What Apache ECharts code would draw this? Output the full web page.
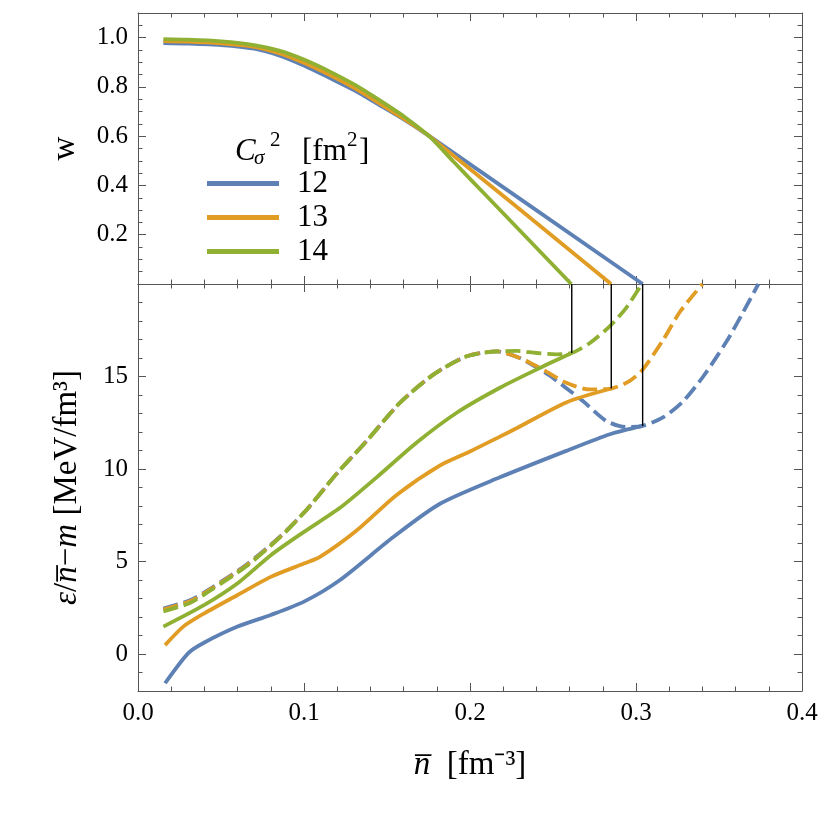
<!DOCTYPE html>
<html><head><meta charset="utf-8">
<script src="https://cdn.jsdelivr.net/npm/echarts@6/dist/echarts.min.js"></script>
<style>html,body{margin:0;padding:0;background:#fff}#c{width:830px;height:830px}</style>
</head><body><div id="c"></div><script>
// ---- data ----
const legendNames = ['12', '13', '14'];
const xTicks = [0.0, 0.1, 0.2, 0.3, 0.4];
const wTickLabels = [0.2, 0.4, 0.6, 0.8, 1.0];
const eTickLabels = [0, 5, 10, 15];

// top panel: w(n)
const nW12 = [0.0153, 0.03, 0.05, 0.07, 0.085, 0.1006, 0.115, 0.1307, 0.145, 0.1608, 0.176, 0.304];
const w12  = [0.978, 0.976, 0.970, 0.955, 0.928, 0.885, 0.838, 0.785, 0.728, 0.665, 0.598, 0.0];
const nW13 = [0.0153, 0.03, 0.05, 0.07, 0.085, 0.1006, 0.115, 0.1307, 0.145, 0.1608, 0.176, 0.285];
const w13  = [0.986, 0.984, 0.977, 0.963, 0.937, 0.896, 0.850, 0.794, 0.735, 0.668, 0.598, 0.0];
const nW14 = [0.0153, 0.03, 0.05, 0.07, 0.085, 0.1006, 0.115, 0.1307, 0.145, 0.1608, 0.176, 0.19, 0.21, 0.23, 0.25, 0.261];
const w14  = [0.994, 0.992, 0.985, 0.970, 0.947, 0.909, 0.864, 0.808, 0.748, 0.677, 0.596, 0.497, 0.357, 0.217, 0.077, 0.0];

// bottom panel: stable branches (solid)
const nE12 = [0.0163, 0.0303, 0.04, 0.06, 0.08, 0.1, 0.1217, 0.1538, 0.1819, 0.218, 0.258, 0.2843, 0.304];
const e12  = [-1.58, 0.05, 0.62, 1.48, 2.11, 2.83, 4.0, 6.32, 8.12, 9.55, 10.98, 11.88, 12.33];
const nE13 = [0.0163, 0.0273, 0.04, 0.06, 0.08, 0.1, 0.1096, 0.1317, 0.1558, 0.182, 0.2, 0.218, 0.228, 0.258, 0.2851];
const e13  = [0.48, 1.48, 2.2, 3.19, 4.17, 4.89, 5.25, 6.68, 8.6, 10.2, 10.95, 11.75, 12.2, 13.6, 14.35];
const nE14 = [0.0153, 0.04, 0.06, 0.08, 0.1, 0.1217, 0.1438, 0.1679, 0.192, 0.218, 0.242, 0.2613];
const e14  = [1.48, 2.65, 3.82, 5.34, 6.6, 7.9, 9.55, 11.43, 13.04, 14.39, 15.46, 16.27];

// bottom panel: other branches (dashed)
const nD12 = [0.0153, 0.0313, 0.0434, 0.0655, 0.0855, 0.1016, 0.1197, 0.1378, 0.1578, 0.1779, 0.198, 0.216, 0.23, 0.24, 0.248, 0.268, 0.282, 0.294, 0.304, 0.3165, 0.3285, 0.3405, 0.3546, 0.3647, 0.3737];
const d12  = [2.46, 2.9, 3.52, 4.84, 6.34, 7.8, 9.75, 11.52, 13.58, 15.1, 16.09, 16.36, 16.0, 15.5, 15.05, 13.67, 12.6, 12.27, 12.33, 12.8, 13.67, 15.0, 16.9, 18.5, 20.0];
const nD13 = [0.0153, 0.0313, 0.0434, 0.0655, 0.0855, 0.1016, 0.1197, 0.1378, 0.1578, 0.1779, 0.198, 0.216, 0.23, 0.244, 0.258, 0.272, 0.2851, 0.296, 0.304, 0.3165, 0.3265, 0.340];
const d13  = [2.4, 2.85, 3.48, 4.8, 6.32, 7.8, 9.75, 11.52, 13.58, 15.1, 16.09, 16.36, 16.0, 15.37, 14.66, 14.3, 14.35, 14.75, 15.37, 17.0, 18.5, 20.0];
const nD14 = [0.0153, 0.0313, 0.0434, 0.0655, 0.0855, 0.1016, 0.1197, 0.1378, 0.1578, 0.1779, 0.198, 0.216, 0.228, 0.24, 0.252, 0.2613, 0.272, 0.284, 0.294, 0.3035];
const d14  = [2.3, 2.76, 3.42, 4.76, 6.3, 7.8, 9.75, 11.52, 13.58, 15.1, 16.09, 16.36, 16.38, 16.27, 16.2, 16.27, 16.8, 17.7, 18.7, 20.0];

// vertical connectors (transition density)
const nTrans = [0.304, 0.2851, 0.2613];
const eTrans = [12.33, 14.35, 16.27];
const eTop = 20;

// ---- styling ----
const colors = ['#5E81B5', '#E19C24', '#8FB032'];
const FONT = '"Liberation Serif", "Times New Roman", serif';
const frame = '#555';
const zip = (a, b) => a.map((v, i) => [v, b[i]]);

const tickCommon = {
  axisLine: { show: true, onZero: false, lineStyle: { color: frame, width: 1 } },
  axisTick: { show: true, inside: true, length: 8, lineStyle: { color: frame, width: 1 } },
  splitLine: { show: false },
  minorSplitLine: { show: false }
};
const minor = n => ({ minorTick: { show: true, splitNumber: n, length: 4.5, lineStyle: { color: frame, width: 1 } } });
const lab = (show, fmt) => ({ show: show, fontFamily: FONT, fontSize: 25, color: '#000', margin: 10, formatter: fmt, showMinLabel: true, showMaxLabel: true });
const near = (arr, v) => arr.some(t => Math.abs(t - v) < 1e-6);
const xFmt = v => near(xTicks, v) ? v.toFixed(1) : '';
const wFmt = v => near(wTickLabels, v) ? v.toFixed(1) : '';
const eFmt = v => near(eTickLabels, v) ? String(Math.round(v)) : '';

function xAxis(grid, pos, show, extra) {
  return Object.assign({ type: 'value', gridIndex: grid, position: pos, min: 0, max: 0.4, interval: 0.1,
    axisLabel: lab(show, xFmt) }, tickCommon, minor(5), extra || {});
}
function yAxisW(pos, show, extra) {
  return Object.assign({ type: 'value', gridIndex: 0, position: pos, min: 0, max: 1.1, interval: 0.2,
    axisLabel: lab(show, wFmt) }, tickCommon, minor(4), extra || {});
}
function yAxisE(pos, show, extra) {
  return Object.assign({ type: 'value', gridIndex: 1, position: pos, min: -2, max: 20, splitNumber: 5,
    axisLabel: lab(show, eFmt) }, tickCommon, minor(5), extra || {});
}

const nameStyle = { fontFamily: FONT, fontSize: 33, color: '#000',
  rich: { i: { fontFamily: FONT, fontSize: 33, fontStyle: 'italic', color: '#000' } } };

const series = [];
const topN = [nW12, nW13, nW14], topW = [w12, w13, w14];
const solN = [nE12, nE13, nE14], solE = [e12, e13, e14];
const dasN = [nD12, nD13, nD14], dasE = [d12, d13, d14];
const SM = 0.25;
for (let k = 0; k < 3; k++) {
  series.push({ type: 'line', name: legendNames[k], xAxisIndex: 0, yAxisIndex: 0, data: zip(topN[k], topW[k]),
    color: colors[k], symbol: 'none', smooth: SM, lineStyle: { width: 3.8, color: colors[k] }, z: 2 + k });
}
for (let k = 0; k < 3; k++) {
  series.push({ type: 'line', name: legendNames[k] + ' other', xAxisIndex: 2, yAxisIndex: 2, data: zip(dasN[k], dasE[k]),
    color: colors[k], symbol: 'none', smooth: SM, lineStyle: { width: 3.8, color: colors[k], type: [15, 6] }, z: 2 + k });
}
for (let k = 0; k < 3; k++) {
  series.push({ type: 'line', name: legendNames[k], xAxisIndex: 2, yAxisIndex: 2, data: zip(solN[k], solE[k]),
    color: colors[k], symbol: 'none', smooth: SM, lineStyle: { width: 3.8, color: colors[k] }, z: 5 + k });
}
for (let k = 0; k < 3; k++) {
  series.push({ type: 'line', name: 'transition', xAxisIndex: 2, yAxisIndex: 2, data: [[nTrans[k], eTop], [nTrans[k], eTrans[k]]],
    symbol: 'none', lineStyle: { width: 1.4, color: '#000' }, z: 9 });
}

const option = {
  animation: false,
  backgroundColor: '#fff',
  grid: [
    { left: 138, top: 13, width: 664, height: 271 },
    { left: 138, top: 284, width: 664, height: 407 }
  ],
  xAxis: [
    xAxis(0, 'bottom', false),
    xAxis(0, 'top', false),
    xAxis(1, 'bottom', true, { name: '{i|n\u0305}  [fm\u207B\u00B3]', nameLocation: 'middle', nameGap: 58, nameTextStyle: nameStyle }),
    xAxis(1, 'top', false)
  ],
  yAxis: [
    yAxisW('left', true, { name: 'w', nameLocation: 'middle', nameGap: 56, nameRotate: 90, nameTextStyle: nameStyle }),
    yAxisW('right', false),
    yAxisE('left', true, { name: '{i|\u03B5}/{i|n\u0305}\u2212{i|m} [MeV/fm\u00B3]', nameLocation: 'middle', nameGap: 54, nameRotate: 90, nameTextStyle: nameStyle }),
    yAxisE('right', false)
  ],
  legend: {
    data: legendNames, orient: 'vertical', left: 202, top: 163, icon: 'rect', itemWidth: 72, itemHeight: 5, itemGap: 3,
    selectedMode: false, textStyle: { fontFamily: FONT, fontSize: 31, color: '#000', padding: [0, 0, 0, 13] }
  },
  graphic: [
    { type: 'text', left: 235, top: 136, style: { text: 'C', font: 'italic 31px "Liberation Serif"', fill: '#000' } },
    { type: 'text', left: 254, top: 148, style: { text: '\u03C3', font: 'italic 21px "Liberation Serif"', fill: '#000' } },
    { type: 'text', left: 270, top: 130, style: { text: '2', font: '21px "Liberation Serif"', fill: '#000' } },
    { type: 'text', left: 302, top: 136, style: { text: '[fm', font: '31px "Liberation Serif"', fill: '#000' } },
    { type: 'text', left: 347, top: 130, style: { text: '2', font: '21px "Liberation Serif"', fill: '#000' } },
    { type: 'text', left: 359, top: 136, style: { text: ']', font: '31px "Liberation Serif"', fill: '#000' } }
  ],
  series: series
};
const chart = echarts.init(document.getElementById('c'), null, { renderer: 'canvas' });
chart.setOption(option);
</script></body></html>
